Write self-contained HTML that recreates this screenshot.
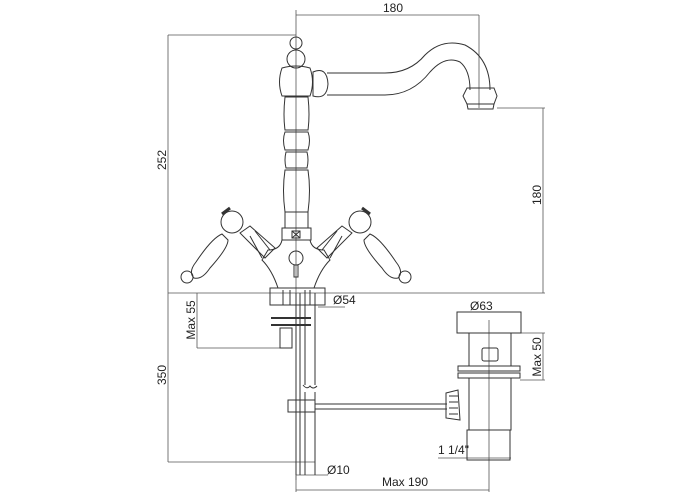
<!DOCTYPE html>
<html><head><style>html,body{margin:0;padding:0;background:#fff}svg{display:block}</style></head><body>
<svg width="700" height="500" viewBox="0 0 700 500" xmlns="http://www.w3.org/2000/svg" font-family="Liberation Sans, sans-serif" font-size="12" fill="none" stroke="#333" stroke-width="1">
<!-- dimension lines -->
<g stroke="#555" stroke-width="0.8">
<line x1="296" y1="10" x2="296" y2="480"/>
<line x1="296" y1="15" x2="479" y2="15"/><line x1="479" y1="15" x2="479" y2="108"/>
<line x1="168" y1="35" x2="296" y2="35"/><line x1="168" y1="35" x2="168" y2="462"/>
<line x1="497" y1="108" x2="545" y2="108"/><line x1="543" y1="108" x2="543" y2="293"/>
<line x1="168" y1="293" x2="545" y2="293"/>
<line x1="197" y1="293" x2="197" y2="348"/><line x1="197" y1="348" x2="285" y2="348"/>
<line x1="168" y1="462" x2="315" y2="462"/>
<line x1="318" y1="307" x2="345" y2="307"/>
<line x1="511" y1="333" x2="545" y2="333"/><line x1="543" y1="333" x2="543" y2="380"/><line x1="520" y1="380" x2="545" y2="380"/>
<line x1="438" y1="458" x2="511" y2="458"/>
<line x1="296" y1="475" x2="328" y2="475"/>
<line x1="296" y1="490" x2="489" y2="490"/><line x1="489" y1="320" x2="489" y2="492"/>
<line x1="296" y1="475" x2="296" y2="492"/>
</g>
<g fill="#222" stroke="none">
<text x="393" y="12" text-anchor="middle">180</text>
<text transform="translate(166,160) rotate(-90)" text-anchor="middle">252</text>
<text transform="translate(541,195) rotate(-90)" text-anchor="middle">180</text>
<text transform="translate(195,320) rotate(-90)" text-anchor="middle">Max 55</text>
<text transform="translate(166,375) rotate(-90)" text-anchor="middle">350</text>
<text transform="translate(541,357) rotate(-90)" text-anchor="middle">Max 50</text>
<text x="333" y="304">Ø54</text>
<text x="470" y="310">Ø63</text>
<text x="438" y="454">1 1/4"</text>
<text x="327" y="474">Ø10</text>
<text x="405" y="486" text-anchor="middle">Max 190</text>
</g>
<!-- faucet stem -->
<circle cx="296" cy="43" r="6"/>
<circle cx="296" cy="59" r="9"/>
<path d="M282 68 Q296 64 310 68 Q315 82 310 96 L282 96 Q277 82 282 68Z"/>
<path d="M313 72 Q327 66 328 84 Q327 100 313 96Z"/>
<!-- spout -->
<path d="M327 73 L385 73 Q410 73 425 55 Q442 38 465 45 Q490 58 490 90"/>
<path d="M327 95 L385 95 Q412 95 430 72 Q445 55 460 62 Q470 70 470 90"/>
<path d="M467 88 L494 88 L497 96 L494 104 L467 104 L463 96Z"/>
<path d="M467 104 L494 104 L493 109 L468 109Z"/>
<path d="M285 97 L308 97 Q310 115 308 130 L285 130 Q283 115 285 97Z"/>
<path d="M285 132 Q282 140 285 150 L308 150 Q311 140 308 132Z"/>
<path d="M286 152 L307 152 Q309 160 307 168 L286 168 Q284 160 286 152Z"/>
<path d="M285 170 L308 170 Q311 190 308 212 L285 212 Q282 190 285 170Z"/>
<rect x="285" y="212" width="23" height="16"/>
<rect x="282" y="228" width="29" height="12"/>
<rect x="292" y="231" width="8" height="7"/>
<path d="M292 231 L300 238 M300 231 L292 238"/>
<!-- body -->
<path d="M282 240 Q280 250 268 250 L262 260 Q272 270 278 288 L314 288 Q320 270 330 260 L324 250 Q312 250 310 240"/>
<circle cx="296" cy="258" r="7"/>
<rect x="294" y="265" width="4" height="12"/>
<!-- left handle -->
<g id="h">
<path d="M240 233 L250 226 L275 248 L265 258Z"/>
<path d="M250 236 L262 258 M255 231 L270 250"/>
<circle cx="232" cy="222" r="11"/>
<path d="M222 214 L230 208" stroke-width="3"/>
<path d="M222 234 Q212 238 196 262 Q188 272 194 278 Q202 280 210 268 Q228 248 228 240Z"/>
<circle cx="187" cy="277" r="6"/>
</g>
<use href="#h" transform="translate(592,0) scale(-1,1)"/>
<!-- under counter -->
<rect x="270" y="288" width="55" height="17"/>
<path d="M283 290 V305 M290 290 V305 M305 290 V305 M310 290 V305"/>
<path d="M271 318 H311 M271 325 H311" stroke-width="2"/>
<rect x="280" y="328" width="12" height="20"/>
<path d="M296 293 V475 M300 293 V475 M305 293 V385 M315 293 V385 M305 392 V475 M315 392 V475"/>
<path d="M303 385 Q307 390 310 386 Q313 390 317 386"/>
<rect x="288" y="400" width="27" height="12"/>
<path d="M296 380 V420 M300 380 V420"/>
<path d="M315 404 H447 M315 409 H447"/>
<!-- popup waste -->
<rect x="457" y="312" width="64" height="21"/>
<rect x="469" y="333" width="42" height="33"/>
<rect x="482" y="348" width="16" height="13" rx="2"/>
<rect x="458" y="366" width="62" height="5"/><rect x="458" y="373" width="62" height="5"/>
<rect x="469" y="378" width="42" height="52"/>
<rect x="467" y="430" width="43" height="30"/>
<path d="M446 393 L458 390 L460 420 L446 418Z"/>
<path d="M449 396 H458 M449 402 H458 M449 408 H458 M449 414 H458"/>
</svg>
</body></html>
